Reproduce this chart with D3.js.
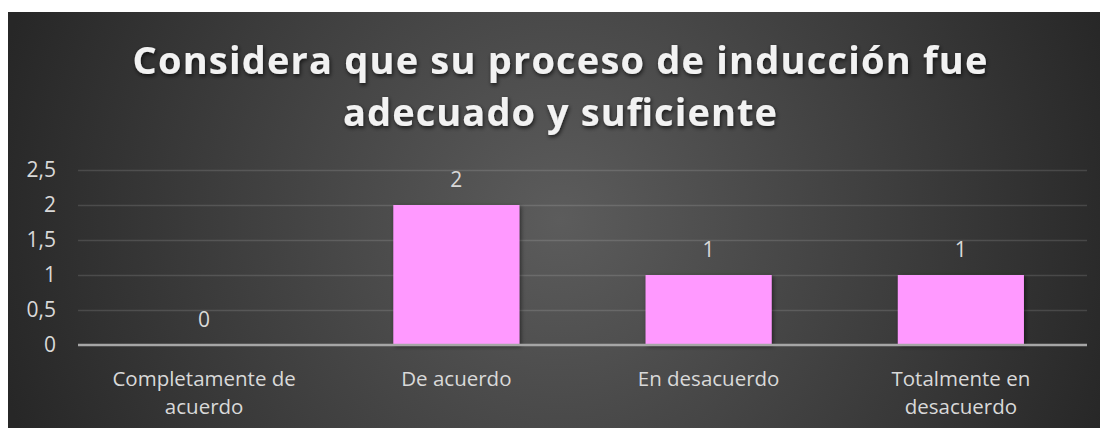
<!DOCTYPE html>
<html>
<head>
<meta charset="utf-8">
<script src="https://cdn.jsdelivr.net/npm/d3@7/dist/d3.min.js"></script>
<style>
  html, body { margin: 0; padding: 0; background: #fff; }
  svg { display: block; }
  text { font-family: "Open Sans", "Noto Sans", sans-serif; }
</style>
</head>
<body>
<svg id="chart" width="1100" height="428"></svg>
<script>
// data
var categories = ["Completamente de acuerdo", "De acuerdo", "En desacuerdo", "Totalmente en desacuerdo"];
var labelLines = [["Completamente de", "acuerdo"], ["De acuerdo"], ["En desacuerdo"], ["Totalmente en", "desacuerdo"]];
var values = [0, 2, 1, 1];
var yTicks = [0, 0.5, 1, 1.5, 2, 2.5];
var titleLines = ["Considera que su proceso de inducción fue", "adecuado y suficiente"];

var svg = d3.select("#chart"),
    width = +svg.attr("width"),
    height = +svg.attr("height");

var plot = { left: 78, right: 1087, top: 170, bottom: 345 };
var es = d3.formatLocale({ decimal: ",", thousands: ".", grouping: [3], currency: ["", ""] });
var fmt = function (d) { return es.format("~g")(d); };

var defs = svg.append("defs");
var grad = defs.append("radialGradient")
    .attr("id", "bg")
    .attr("gradientUnits", "userSpaceOnUse")
    .attr("cx", 560).attr("cy", 220).attr("r", 580);
grad.append("stop").attr("offset", "0%").attr("stop-color", "#5c5c5c");
grad.append("stop").attr("offset", "100%").attr("stop-color", "#272727");

var shadow = defs.append("filter").attr("id", "shadow")
    .attr("x", "-20%").attr("y", "-20%").attr("width", "140%").attr("height", "140%");
shadow.append("feDropShadow").attr("dx", 1.5).attr("dy", 1.5).attr("stdDeviation", 2)
    .attr("flood-color", "#000").attr("flood-opacity", 0.5);

var tshadow = defs.append("filter").attr("id", "tshadow")
    .attr("x", "-5%").attr("y", "-30%").attr("width", "110%").attr("height", "160%");
tshadow.append("feDropShadow").attr("dx", 1).attr("dy", 2).attr("stdDeviation", 2)
    .attr("flood-color", "#000").attr("flood-opacity", 0.7);

// background
svg.append("rect")
    .attr("x", 8).attr("y", 12)
    .attr("width", width - 8).attr("height", height - 12)
    .attr("fill", "url(#bg)");

// title
var title = svg.append("text")
    .attr("text-anchor", "middle")
    .attr("fill", "#f2f2f2")
    .attr("font-size", 38)
    .attr("font-weight", 700)
    .attr("filter", "url(#tshadow)");
var titleWidths = [855, 434];
var titleBase = [74, 126];
titleLines.forEach(function (t, i) {
  title.append("tspan")
      .attr("x", 560).attr("y", titleBase[i])
      .attr("textLength", titleWidths[i])
      .attr("lengthAdjust", "spacing")
      .text(t);
});

var x = d3.scaleBand()
    .domain(categories)
    .range([plot.left, plot.right])
    .paddingInner(0.5)
    .paddingOuter(0.25);

var y = d3.scaleLinear()
    .domain([0, 2.5])
    .range([plot.bottom, plot.top]);

// gridlines
var grid = svg.append("g")
    .attr("transform", "translate(" + plot.left + ",0)")
    .call(d3.axisLeft(y).tickValues(yTicks.slice(1)).tickSize(-(plot.right - plot.left)).tickFormat(""));
grid.select(".domain").remove();
grid.selectAll("line").attr("stroke", "#ffffff").attr("stroke-opacity", 0.13).attr("stroke-width", 1.5);

// y axis labels
var yAxis = svg.append("g")
    .attr("transform", "translate(56,0)")
    .call(d3.axisLeft(y).tickValues(yTicks).tickSize(0).tickPadding(0).tickFormat(fmt));
yAxis.select(".domain").remove();
yAxis.selectAll("text")
    .attr("fill", "#d9d9d9")
    .attr("font-size", 21)
    .attr("font-family", "\"Open Sans\", sans-serif");

// bars
svg.append("g").selectAll("rect")
    .data(values)
    .join("rect")
    .attr("x", function (d, i) { return x(categories[i]); })
    .attr("y", function (d) { return y(d); })
    .attr("width", x.bandwidth())
    .attr("height", function (d) { return y(0) - y(d); })
    .attr("fill", "#ff99ff")
    .attr("filter", "url(#shadow)");

// baseline axis
svg.append("line")
    .attr("x1", plot.left).attr("x2", plot.right)
    .attr("y1", y(0)).attr("y2", y(0))
    .attr("stroke", "#a6a6a6").attr("stroke-width", 2.5);

// data labels
svg.append("g").selectAll("text")
    .data(values)
    .join("text")
    .attr("x", function (d, i) { return x(categories[i]) + x.bandwidth() / 2; })
    .attr("y", function (d) { return y(d) - 18; })
    .attr("text-anchor", "middle")
    .attr("fill", "#d9d9d9")
    .attr("font-size", 21)
    .text(function (d) { return fmt(d); });

// category labels
var cat = svg.append("g").selectAll("text")
    .data(labelLines)
    .join("text")
    .attr("text-anchor", "middle")
    .attr("fill", "#d9d9d9")
    .attr("font-size", 20.5);
cat.each(function (lines, i) {
  var cx = x(categories[i]) + x.bandwidth() / 2;
  d3.select(this).selectAll("tspan")
      .data(lines)
      .join("tspan")
      .attr("x", cx)
      .attr("y", function (d, j) { return 386 + j * 28; })
      .text(function (d) { return d; });
});
</script>
</body>
</html>
